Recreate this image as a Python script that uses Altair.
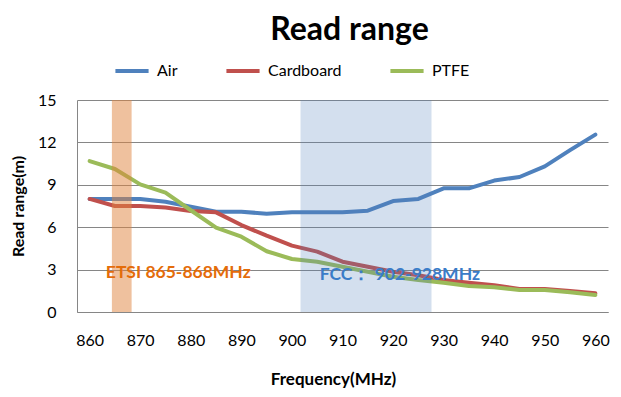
import altair as alt
import pandas as pd

freqs = [860, 865, 870, 875, 880, 885, 890, 895, 900, 905, 910,
         915, 920, 925, 930, 935, 940, 945, 950, 955, 960]
air = [8.0, 8.0, 8.0, 7.8, 7.45, 7.1, 7.1, 6.95, 7.05, 7.05, 7.05,
       7.17, 7.85, 8.0, 8.75, 8.75, 9.3, 9.55, 10.3, 11.45, 12.55]
cardboard = [8.0, 7.5, 7.5, 7.4, 7.15, 7.05, 6.15, 5.4, 4.7, 4.27, 3.56,
             3.2, 2.85, 2.6, 2.26, 2.07, 1.9, 1.63, 1.63, 1.48, 1.32]
ptfe = [10.68, 10.12, 9.03, 8.45, 7.2, 5.97, 5.33, 4.3, 3.75, 3.56, 3.2,
        2.85, 2.5, 2.26, 2.07, 1.84, 1.75, 1.56, 1.56, 1.4, 1.2]
series_names = ["Air", "Cardboard", "PTFE"]
series_colors = ["#4F81BD", "#C0504D", "#9BBB59"]

band_names = ["ETSI", "FCC"]
band_start = [864.4, 901.7]
band_end = [868.3, 927.6]
band_colors = ["#DF833D", "#4F81BD"]
band_opacity = [0.5, 0.25]

note_text = ["ETSI 865-868MHz", "FCC\uff1a 902-928MHz"]
note_x = [863.2, 905.5]
note_y = [2.78, 2.62]
note_colors = ["#E46C0A", "#3A7CC8"]

x_ticks = [860, 870, 880, 890, 900, 910, 920, 930, 940, 950, 960]
y_ticks = [0, 3, 6, 9, 12, 15]

rows = []
for name, vals in zip(series_names, [air, cardboard, ptfe]):
    for f, v in zip(freqs, vals):
        rows.append({"freq": f, "value": v, "series": name})
df = pd.DataFrame(rows)
bands = pd.DataFrame({"name": band_names, "start": band_start, "end": band_end,
                      "color": band_colors, "op": band_opacity})
notes = pd.DataFrame({"text": note_text, "x": note_x, "y": note_y, "color": note_colors})

FONT = "Lato"
xscale = alt.Scale(domain=[857.5, 962.5], nice=False, zero=False)
yscale = alt.Scale(domain=[0, 15], nice=False)

lines = alt.Chart(df).mark_line(strokeWidth=4, strokeJoin="round", strokeCap="round").encode(
    x=alt.X("freq:Q", scale=xscale,
            axis=alt.Axis(values=x_ticks, title="Frequency(MHz)", grid=False, ticks=False,
                          labelPadding=20, titlePadding=23, labelFontSize=16,
                          titleFontSize=17, titleFontWeight="bold", labelColor="black",
                          titleColor="black", domainColor="#868686", labelFont=FONT,
                          titleFont=FONT, titleX=256)),
    y=alt.Y("value:Q", scale=yscale,
            axis=alt.Axis(values=y_ticks, title="Read range(m)", grid=True, ticks=False,
                          labelPadding=21, titlePadding=11, labelFontSize=16,
                          titleFontSize=16, titleFontWeight="bold", labelColor="black",
                          titleColor="black", domainColor="#868686", gridColor="#868686",
                          labelFont=FONT, titleFont=FONT)),
    color=alt.Color("series:N",
                    scale=alt.Scale(domain=series_names, range=series_colors),
                    legend=alt.Legend(orient="none", direction="horizontal", title=None,
                                      legendX=36, legendY=-48, symbolType="stroke",
                                      symbolStrokeWidth=4, symbolSize=1100,
                                      labelFontSize=16, labelFont=FONT, labelColor="black",
                                      columnPadding=40, labelOffset=6)),
)

band_rects = alt.Chart(bands).mark_rect().encode(
    x="start:Q", x2="end:Q",
    y=alt.datum(0, scale=yscale), y2=alt.datum(15),
    color=alt.Color("color:N", scale=None),
    opacity=alt.Opacity("op:Q", scale=None),
)

note_marks = alt.Chart(notes).mark_text(align="left", baseline="middle", fontSize=17.5,
                                        fontWeight="bold", font=FONT).encode(
    x="x:Q", y="y:Q", text="text:N", color=alt.Color("color:N", scale=None),
)

chart = alt.layer(lines, band_rects, note_marks).properties(
    width=531, height=212,
    autosize=alt.AutoSizeParams(type="none"),
    padding={"left": 69, "top": 92, "right": 5, "bottom": 77},
    title=alt.TitleParams("Read range", fontSize=32, fontWeight="bold", font=FONT,
                          anchor="middle", color="black", dx=7, offset=5),
).configure_view(stroke=None)

chart.save("out.html", embed_options={"renderer": "svg", "actions": False})
